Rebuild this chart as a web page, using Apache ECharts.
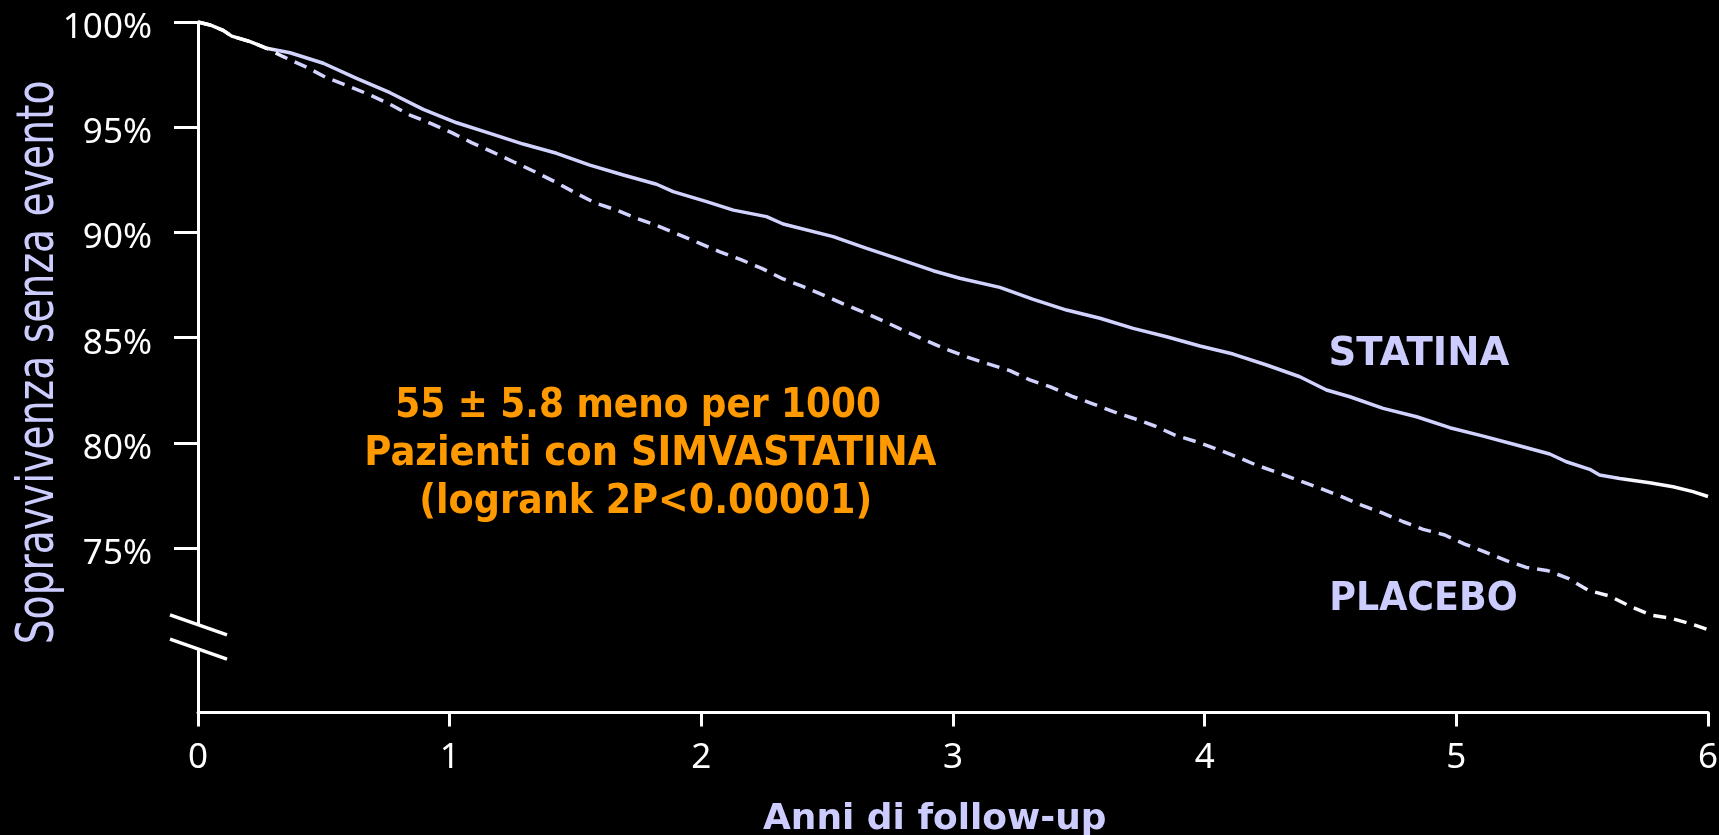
<!DOCTYPE html>
<html><head><meta charset="utf-8">
<script src="https://cdn.jsdelivr.net/npm/echarts@6/dist/echarts.min.js"></script>
<style>html,body{margin:0;padding:0;background:#000;}#chart{width:1719px;height:835px;}</style>
</head><body><div id="chart"></div>
<script>
// ---------------- data ----------------
const yearTicks = [0, 1, 2, 3, 4, 5, 6];
const survTicks = [75, 80, 85, 90, 95, 100];
const statinaYears = [0, 0.048, 0.10, 0.134, 0.207, 0.273, 0.366, 0.498, 0.63, 0.763, 0.895, 1.028, 1.16, 1.292, 1.425, 1.557, 1.69, 1.822, 1.888, 2.021, 2.127, 2.259, 2.325, 2.524, 2.657, 2.789, 2.921, 3.027, 3.186, 3.319, 3.451, 3.584, 3.716, 3.849, 3.981, 4.113, 4.246, 4.378, 4.484, 4.577, 4.709, 4.842, 4.974, 5.107, 5.239, 5.371, 5.437, 5.53, 5.569, 5.649, 5.768, 5.861, 5.94, 6.0];
const statinaSurv = [100, 99.86, 99.6, 99.33, 99.07, 98.75, 98.54, 98.04, 97.32, 96.64, 95.85, 95.21, 94.71, 94.2, 93.76, 93.2, 92.73, 92.29, 91.94, 91.46, 91.06, 90.75, 90.4, 89.8, 89.24, 88.72, 88.18, 87.82, 87.39, 86.82, 86.31, 85.92, 85.44, 85.04, 84.6, 84.22, 83.7, 83.14, 82.51, 82.19, 81.64, 81.24, 80.72, 80.32, 79.9, 79.47, 79.1, 78.74, 78.47, 78.31, 78.1, 77.91, 77.68, 77.45];
const placeboYears = [0, 0.048, 0.10, 0.134, 0.207, 0.273, 0.339, 0.432, 0.511, 0.597, 0.684, 0.763, 0.842, 0.922, 1.008, 1.087, 1.167, 1.253, 1.332, 1.418, 1.498, 1.577, 1.663, 1.743, 1.829, 1.908, 1.994, 2.074, 2.16, 2.24, 2.319, 2.405, 2.485, 2.564, 2.65, 2.729, 2.815, 2.895, 2.975, 3.06, 3.14, 3.226, 3.305, 3.385, 3.471, 3.55, 3.637, 3.716, 3.802, 3.882, 3.968, 4.04, 4.127, 4.206, 4.292, 4.378, 4.458, 4.544, 4.623, 4.703, 4.789, 4.868, 4.954, 5.033, 5.113, 5.199, 5.278, 5.365, 5.444, 5.523, 5.609, 5.689, 5.775, 5.854, 5.934, 6.0];
const placeboSurv = [100, 99.86, 99.6, 99.33, 99.07, 98.75, 98.35, 97.85, 97.35, 96.96, 96.53, 96.09, 95.58, 95.19, 94.74, 94.27, 93.84, 93.36, 92.92, 92.41, 91.89, 91.41, 91.06, 90.67, 90.3, 89.91, 89.48, 89.08, 88.69, 88.29, 87.82, 87.42, 87.02, 86.6, 86.18, 85.76, 85.28, 84.85, 84.44, 84.06, 83.75, 83.43, 82.99, 82.67, 82.22, 81.88, 81.48, 81.17, 80.8, 80.37, 80.05, 79.74, 79.34, 78.94, 78.58, 78.2, 77.84, 77.44, 77.04, 76.68, 76.25, 75.89, 75.62, 75.19, 74.82, 74.4, 74.08, 73.92, 73.56, 73.0, 72.72, 72.24, 71.81, 71.66, 71.39, 71.12];
const yTitle = 'Sopravvivenza senza evento';
const xTitle = 'Anni di follow-up';
const labelStatina = 'STATINA';
const labelPlacebo = 'PLACEBO';
const noteLines = ['55 ± 5.8 meno per 1000', 'Pazienti con SIMVASTATINA', '(logrank 2P<0.00001)'];
const axisBreak = [70.2, 71.35];

// ---------------- chart ----------------
const LAV = '#ccccff';
const chart = echarts.init(document.getElementById('chart'), null, {renderer: 'canvas'});
const pairs = (xs, ys) => xs.map((x, i) => [x, ys[i]]);
const lineGrad = (a, b) => ({type: 'linear', x: 0, y: 0, x2: 1, y2: 0, colorStops: [
  {offset: 0, color: '#ffffff'}, {offset: a, color: '#ffffff'}, {offset: a + 0.01, color: '#d2d2ff'},
  {offset: b, color: '#d2d2ff'}, {offset: b + 0.01, color: '#f4f4ff'}, {offset: 1, color: '#ffffff'}]});

chart.setOption({
  backgroundColor: '#000',
  animation: false,
  grid: {left: 198, right: 11, top: 22, bottom: 122.4, containLabel: false, outerBoundsMode: 'none'},
  xAxis: {
    type: 'value', min: 0, max: 6, interval: 1,
    axisLine: {show: true, lineStyle: {color: '#fff', width: 3}},
    axisTick: {show: true, length: 14, lineStyle: {color: '#fff', width: 3}},
    axisLabel: {color: '#fff', fontFamily: 'Noto Sans', fontSize: 35, margin: 28,
      formatter: v => yearTicks.includes(v) ? String(v) : ''},
    splitLine: {show: false}
  },
  yAxis: {
    type: 'value', min: 67.18, max: 100,
    axisLine: {show: true, lineStyle: {color: '#fff', width: 3}},
    axisTick: {show: true, length: 24, customValues: survTicks, lineStyle: {color: '#fff', width: 3}},
    axisLabel: {color: '#fff', fontFamily: 'Noto Sans', fontSize: 35, margin: 46, customValues: survTicks,
      formatter: v => '{p|' + v + '%}',
      rich: {p: {color: '#fff', fontFamily: 'Noto Sans', fontSize: 35, padding: [12, 0, 0, 0]}}},
    splitLine: {show: false}
  },
  series: [
    {type: 'line', name: 'PLACEBO', data: pairs(placeboYears, placeboSurv), showSymbol: false, symbol: 'none', z: 2,
      lineStyle: {color: lineGrad(0.05, 0.91), width: 3.5, type: [13, 8], cap: 'butt'}},
    {type: 'line', name: 'STATINA', data: pairs(statinaYears, statinaSurv), showSymbol: false, symbol: 'none', z: 3,
      lineStyle: {color: lineGrad(0.045, 0.935), width: 3.5}}
  ]
});

// ---------------- text helpers ----------------
const mctx = document.createElement('canvas').getContext('2d');
function fitText(text, o) {
  mctx.textAlign = 'center';
  mctx.textBaseline = 'middle';
  mctx.font = `${o.weight} 100px ${o.family}`;
  const hm = mctx.measureText('H');
  const capRatio = (hm.actualBoundingBoxAscent + hm.actualBoundingBoxDescent) / 100;
  const fs = o.cap / capRatio;
  const font = `${o.weight} ${fs.toFixed(2)}px ${o.family}`;
  mctx.font = font;
  const h = mctx.measureText('H');
  const capCenter = (h.actualBoundingBoxDescent - h.actualBoundingBoxAscent) / 2;
  const m = mctx.measureText(text);
  const inkW = m.actualBoundingBoxLeft + m.actualBoundingBoxRight;
  const inkC = (m.actualBoundingBoxRight - m.actualBoundingBoxLeft) / 2;
  return {type: 'text', x: o.cx, y: o.cy, rotation: o.rot || 0, scaleX: o.w / inkW, scaleY: 1, z: 50,
    style: {text: text, x: -inkC, y: -capCenter, font: font, fill: o.fill, align: 'center', verticalAlign: 'middle'}};
}

const axisX = chart.convertToPixel({gridIndex: 0}, [0, 100])[0];
const b1 = chart.convertToPixel({gridIndex: 0}, [0, axisBreak[1]]);
const b2 = chart.convertToPixel({gridIndex: 0}, [0, axisBreak[0]]);

const DV = '"DejaVu Sans", Verdana, sans-serif';
const graphics = [
  {type: 'rect', z: 40, shape: {x: axisX - 4, y: b1[1], width: 8, height: b2[1] - b1[1]}, style: {fill: '#000'}},
  {type: 'line', z: 41, shape: {x1: axisX - 28, y1: b1[1] - 10, x2: axisX + 29, y2: b1[1] + 10}, style: {stroke: '#fff', lineWidth: 3.5}},
  {type: 'line', z: 41, shape: {x1: axisX - 28, y1: b2[1] - 10, x2: axisX + 29, y2: b2[1] + 10}, style: {stroke: '#fff', lineWidth: 3.5}},
  fitText(yTitle, {cx: 34, cy: 362, w: 560, cap: 37, weight: 'normal', family: DV, fill: LAV, rot: Math.PI / 2}),
  fitText(xTitle, {cx: 934, cy: 816, w: 342, cap: 26, weight: 'bold', family: DV, fill: LAV}),
  fitText(labelStatina, {cx: 1420, cy: 350, w: 179, cap: 29, weight: 'bold', family: DV, fill: LAV}),
  fitText(labelPlacebo, {cx: 1424, cy: 595.5, w: 184, cap: 29, weight: 'bold', family: DV, fill: LAV}),
  fitText(noteLines[0], {cx: 639, cy: 402, w: 482, cap: 29.5, weight: 'bold', family: DV, fill: '#ff9900'}),
  fitText(noteLines[1], {cx: 652, cy: 450, w: 570, cap: 29.5, weight: 'bold', family: DV, fill: '#ff9900'}),
  fitText(noteLines[2], {cx: 645.5, cy: 498, w: 447, cap: 29.5, weight: 'bold', family: DV, fill: '#ff9900'})
];
chart.setOption({graphic: graphics});
</script>
</body></html>
